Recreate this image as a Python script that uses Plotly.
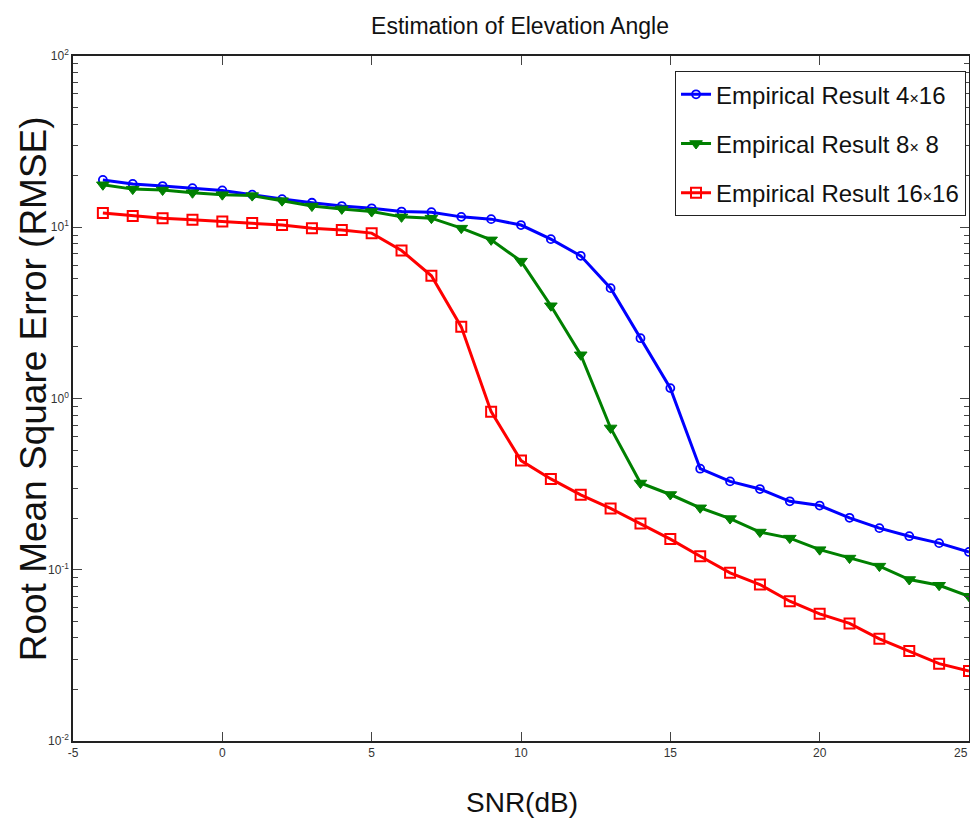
import plotly.graph_objects as go

snr = list(range(-4, 26))

rmse_4x16 = [18.9, 17.9, 17.4, 16.9, 16.4, 15.5, 14.6, 13.9, 13.3, 12.9,
             12.35, 12.25, 11.5, 11.15, 10.3, 8.52, 6.81, 4.41, 2.25, 1.15,
             0.389, 0.328, 0.296, 0.251, 0.237, 0.201, 0.175, 0.157, 0.143, 0.127]
rmse_8x8 = [17.7, 16.7, 16.5, 15.9, 15.5, 15.3, 14.3, 13.3, 12.8, 12.35,
            11.5, 11.3, 9.88, 8.44, 6.34, 3.48, 1.80, 0.673, 0.321, 0.275,
            0.230, 0.199, 0.166, 0.153, 0.131, 0.117, 0.105, 0.0877, 0.0812, 0.070]
rmse_16x16 = [12.1, 11.65, 11.3, 11.05, 10.8, 10.6, 10.3, 9.88, 9.65, 9.24,
              7.31, 5.21, 2.62, 0.838, 0.434, 0.339, 0.274, 0.228, 0.186, 0.151,
              0.120, 0.0960, 0.0820, 0.0655, 0.0553, 0.0486, 0.0395, 0.0335, 0.0283, 0.0256]

series_names = ["Empirical Result 4<span style='font-size:16px'>×</span>16",
                "Empirical Result 8<span style='font-size:16px'>×</span> 8",
                "Empirical Result 16<span style='font-size:16px'>×</span>16"]

y_tickvals = [0.01, 0.1, 1, 10, 100]
y_ticktext = ["10<sup>-2</sup>", "10<sup>-1</sup>", "10<sup>0</sup>", "10<sup>1</sup>", "10<sup>2</sup>"]
x_tickvals = [-5, 0, 5, 10, 15, 20, 25]

FONT = "Liberation Sans, Arial, sans-serif"

# page body has an 8px margin: screen = figure + 8
OFF = 8
W, H = 962, 812
L, T = 72.5 - OFF, 56 - OFF
R = 0.5
B = H - (741.5 - OFF)
pw = W - L - R
ph = H - T - B


def px_x(sx):
    return (sx - OFF - L) / pw


def px_y(sy):
    return (H - B - (sy - OFF)) / ph


fig = go.Figure()
styles = [
    dict(color="#0000FF", symbol="circle-open", size=8, lw=1.8),
    dict(color="#008000", symbol="triangle-down", size=11, lw=1),
    dict(color="#FF0000", symbol="square-open", size=10, lw=2),
]
for i, (name, vals, st) in enumerate(zip(series_names, [rmse_4x16, rmse_8x8, rmse_16x16], styles)):
    fig.add_trace(go.Scatter(
        x=snr, y=vals, name=name, mode="lines+markers",
        legendgroup=f"g{i}", cliponaxis=False,
        line=dict(color=st["color"], width=3),
        marker=dict(symbol=st["symbol"], size=st["size"], color=st["color"],
                    line=dict(color=st["color"], width=st["lw"])),
    ))

# the last x tick label sits at the window edge: draw it right-aligned so it stays whole
last_x = x_tickvals[-1]
inner_x = x_tickvals[:-1]

fig.update_layout(
    width=W, height=H,
    margin=dict(l=L, r=R, t=T, b=B, autoexpand=False),
    paper_bgcolor="white", plot_bgcolor="white",
    title=dict(text="Estimation of Elevation Angle", x=(520 - OFF) / W,
               xanchor="center", y=1 - (26 - OFF) / H, yanchor="middle",
               font=dict(family=FONT, size=23, color="#111")),
    legend=dict(x=px_x(675), y=px_y(71), xanchor="left", yanchor="top",
                bordercolor="#222", borderwidth=1.2, bgcolor="white",
                font=dict(family=FONT, size=24, color="#111"),
                tracegroupgap=15, itemwidth=30),
    showlegend=True,
    annotations=[
        dict(text="Root Mean Square Error (RMSE)", textangle=-90,
             xref="paper", yref="paper", x=px_x(33), y=px_y(389),
             xanchor="center", yanchor="middle", showarrow=False,
             font=dict(family=FONT, size=37, color="#111")),
        dict(text="SNR(dB)",
             xref="paper", yref="paper", x=px_x(522), y=px_y(803),
             xanchor="center", yanchor="middle", showarrow=False,
             font=dict(family=FONT, size=28, color="#111")),
        dict(text=str(last_x), xref="x", yref="paper", x=last_x, y=0,
             xanchor="right", yanchor="middle", yshift=-12, xshift=1, showarrow=False,
             font=dict(family=FONT, size=12, color="#333")),
    ],
)
fig.update_xaxes(
    range=[-5, 25], tickvals=x_tickvals, ticktext=[str(v) for v in inner_x] + [""],
    ticks="inside", ticklen=9,
    showline=True, linecolor="#222", linewidth=1.5, mirror="ticks",
    showgrid=False, zeroline=False, tickcolor="#444", automargin=False,
    tickfont=dict(family=FONT, size=12, color="#333"),
)
fig.update_yaxes(
    type="log", range=[-2, 2], tickvals=y_tickvals, ticktext=y_ticktext,
    ticks="inside", ticklen=9,
    minor=dict(ticks="inside", ticklen=5, dtick="D1", tickcolor="#444", showgrid=False),
    showline=True, linecolor="#222", linewidth=1.5, mirror="ticks",
    showgrid=False, zeroline=False, tickcolor="#444", automargin=False,
    tickfont=dict(family=FONT, size=12, color="#333"),
)

fig.write_html("out.html")
